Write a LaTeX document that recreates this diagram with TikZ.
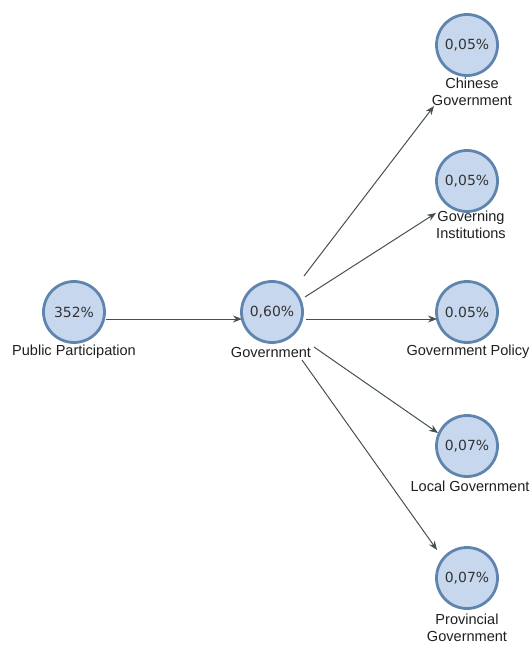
\documentclass[tikz,border=0pt]{standalone}
\usepackage{fontspec}
\setmainfont{Liberation Sans}
\newfontfamily\pctfont{DejaVu Sans}
\usetikzlibrary{arrows.meta}
\definecolor{cfill}{HTML}{C7D8EE}
\definecolor{cborder}{HTML}{5F84AD}
\definecolor{edgec}{HTML}{44524E}
\tikzset{
  bub/.style={circle, draw=cborder, line width=2.8pt, fill=cfill, minimum size=61bp, inner sep=0pt,
    font=\pctfont\fontsize{14}{15}\selectfont, text=black!80},
  lbl/.style={font=\fontsize{14.6}{17}\selectfont, text=black!88, align=center, inner sep=0pt},
  edge/.style={draw=edgec, line width=1pt, -{Stealth[length=9bp,width=7bp]}}
}
\begin{document}
\begin{tikzpicture}[x=1bp,y=-1bp]
\useasboundingbox (0,0) rectangle (531,646);
% nodes
\node[bub] (pp) at (74,312) {352\%};
\node[lbl] (ppl) at (74,352) {Public Participation};
\node[bub] (gov) at (272,312) {0,60\%};
\node[lbl] (govl) at (271,352) {Government};
\node[bub] (cg) at (467,45) {0,05\%};
\node[lbl] (cgl) at (472,92) {Chinese\\Government};
\node[bub] (gi) at (467,181) {0,05\%};
\node[lbl] (gil) at (471,225) {Governing\\Institutions};
\node[bub] (gp) at (467,312) {0.05\%};
\node[lbl] (gpl) at (468,352) {Government Policy};
\node[bub] (lg) at (467,446) {0,07\%};
\node[lbl] (lgl) at (470,486) {Local Government};
\node[bub] (pg) at (467,578) {0,07\%};
\node[lbl] (pgl) at (467,628) {Provincial\\Government};
% connector end points
\coordinate (a1) at (106,319);
\coordinate (a2) at (242,319);
\coordinate (c1) at (304,276);
\coordinate (c2) at (434,106);
\coordinate (i1) at (305,297);
\coordinate (i2) at (436,213);
\coordinate (p1) at (306,319);
\coordinate (p2) at (437,319);
\coordinate (l1) at (314,347);
\coordinate (l2) at (438,433);
\coordinate (v1) at (302,360);
\coordinate (v2) at (437,550);
\draw[edge] (a1) -- (a2);
\draw[edge] (c1) -- (c2);
\draw[edge] (i1) -- (i2);
\draw[edge] (p1) -- (p2);
\draw[edge] (l1) -- (l2);
\draw[edge] (v1) -- (v2);
\end{tikzpicture}
\end{document}
